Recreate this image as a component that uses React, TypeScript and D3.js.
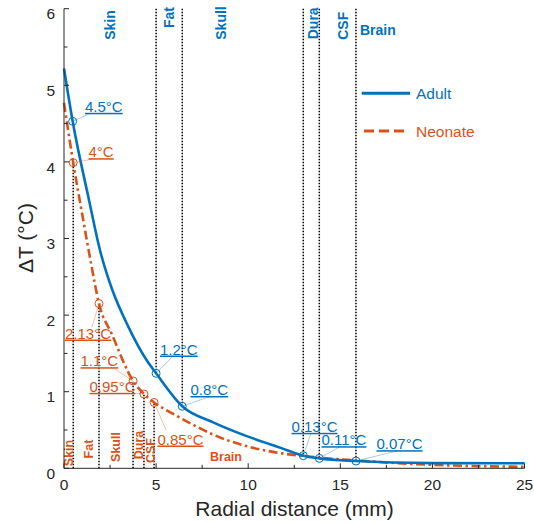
import React from "react";
import * as d3 from "d3";

// ---- data ----
const adultX = [0, 0.47, 1.36, 1.95, 2.59, 3.49, 4.49, 5.0, 6.42, 8.1, 9.92, 11.73, 12.99, 13.86, 15.85, 20, 25];
const adultY = [5.22, 4.53, 3.5, 2.85, 2.35, 1.85, 1.41, 1.24, 0.81, 0.6, 0.42, 0.27, 0.165, 0.13, 0.095, 0.068, 0.065];

const neoX = [0, 0.5, 1.0, 1.45, 1.9, 2.6, 3.75, 4.34, 4.89, 6.0, 7.0, 8.1, 9.9, 11.7, 13.4, 16, 20, 25];
const neoY = [4.77, 3.99, 3.3, 2.7, 2.15, 1.75, 1.14, 0.97, 0.86, 0.7, 0.57, 0.44, 0.29, 0.2, 0.15, 0.1, 0.045, 0.02];

const adultPtX = [0.47, 5.0, 6.42, 12.99, 13.86, 15.85];
const adultPtY = [4.53, 1.24, 0.81, 0.165, 0.13, 0.095];
const adultPtLabels = ["4.5°C", "1.2°C", "0.8°C", "0.13°C", "0.11°C", "0.07°C"];
const adultLineX = [5.0, 6.42, 12.99, 13.86, 15.85];
const adultLineY = [1.24, 0.81, 0.165, 0.13, 0.095];

const neoPtX = [0.5, 1.9, 3.75, 4.34, 4.89];
const neoPtY = [3.99, 2.15, 1.14, 0.97, 0.86];
const neoPtLabels = ["4°C", "2.13°C", "1.1°C", "0.95°C", "0.85°C"];

const adultRegions = ["Skin", "Fat", "Skull", "Dura", "CSF", "Brain"];
const neoRegions = ["Skin", "Fat", "Skull", "Dura", "CSF", "Brain"];

const xTicks = [0, 5, 10, 15, 20, 25];
const xMinor = [2.5, 7.5, 12.5, 17.5, 22.5];
const yTicks = [0, 1, 2, 3, 4, 5, 6];
const yMinor = [0.5, 1.5, 2.5, 3.5, 4.5, 5.5];

const seriesNames = ["Adult", "Neonate"];

// ---- layout (pixels) ----
const W = 534, H = 523;
const BLUE = "#0072BD";
const ORANGE = "#D95319";
const AX = "#262626";
const FONT = "'Liberation Sans', Arial, Helvetica, sans-serif";

const adultLabelPos = [
  { tx: 85, ty: 111.8, lx: 90, ly: 113.5 },
  { tx: 160, ty: 354.5, lx: 173, ly: 356 },
  { tx: 190.5, ty: 395, lx: 210, ly: 396.5 },
  { tx: 291.5, ty: 431.8, lx: 311, ly: 433.3 },
  { tx: 321.5, ty: 445.2, lx: 340, ly: 446.7 },
  { tx: 376.5, ty: 449.2, lx: 398, ly: 450.7 },
];
const neoLabelPos = [
  { tx: 88.5, ty: 157.2, lx: 95, ly: 158.7 },
  { tx: 65, ty: 338.5, lx: 92, ly: 327 },
  { tx: 80.5, ty: 366.2, lx: 115, ly: 369 },
  { tx: 89.5, ty: 391.8, lx: 136, ly: 393.3 },
  { tx: 157.5, ty: 444.5, lx: 166, ly: 430 },
];
// rotated region labels: [baselineX, centerY]; last is horizontal [x, baseline]
const adultRegionPos = [[115, 25], [174, 17.5], [226, 23], [318, 23.3], [348, 25.8], [360, 35]];
const neoRegionPos = [[73.3, 453], [93, 449], [120, 447], [142.5, 445], [155, 450.5], [210, 460.7]];

export default function App() {
  const x = d3.scaleLinear().domain([0, 25]).range([64, 524.5]);
  const y = d3.scaleLinear().domain([0, 6]).range([468.3, 8.7]);

  const line = d3
    .line<[number, number]>()
    .x((d) => x(d[0]))
    .y((d) => y(d[1]))
    .curve(d3.curveMonotoneX);

  const adultPath = line(adultX.map((v, i) => [v, adultY[i]]) as [number, number][]) || "";
  const neoPath = line(neoX.map((v, i) => [v, neoY[i]]) as [number, number][]) || "";

  const y0 = y(0);
  const x0 = x(0);
  const dotted = { stroke: "#000", strokeWidth: 1.5, strokeDasharray: "1.5,1.5" };

  return (
    <svg
      width={W}
      height={H}
      style={{ position: "fixed", left: 0, top: 0, background: "#fff" }}
      fontFamily={FONT}
    >
      {/* adult boundary lines (top down to curve) */}
      {adultLineX.map((v, i) => (
        <line key={"al" + i} x1={x(v)} x2={x(v)} y1={y(6)} y2={y(adultLineY[i])} {...dotted} />
      ))}
      {/* neonate boundary lines (bottom up to curve) */}
      {neoPtX.map((v, i) => (
        <line key={"nl" + i} x1={x(v)} x2={x(v)} y1={y0} y2={y(neoPtY[i])} {...dotted} />
      ))}

      {/* curves */}
      <path d={neoPath} fill="none" stroke={ORANGE} strokeWidth={2.6} strokeDasharray="9,3.5,2.5,3.5" />
      <path d={adultPath} fill="none" stroke={BLUE} strokeWidth={2.6} />

      {/* points */}
      {adultPtX.map((v, i) => (
        <circle key={"ap" + i} cx={x(v)} cy={y(adultPtY[i])} r={4} fill="none" stroke={BLUE} strokeWidth={1} />
      ))}
      {neoPtX.map((v, i) => (
        <circle key={"np" + i} cx={x(v)} cy={y(neoPtY[i])} r={4} fill="none" stroke={ORANGE} strokeWidth={1} />
      ))}

      {/* annotations */}
      {adultPtLabels.map((t, i) => {
        const p = adultLabelPos[i];
        return (
          <g key={"aa" + i}>
            <line x1={x(adultPtX[i])} y1={y(adultPtY[i])} x2={p.lx} y2={p.ly} stroke={BLUE} strokeOpacity={0.6} strokeWidth={0.6} />
            <text x={p.tx} y={p.ty} fontSize={15} fill={BLUE} textDecoration="underline">
              {t}
            </text>
          </g>
        );
      })}
      {neoPtLabels.map((t, i) => {
        const p = neoLabelPos[i];
        return (
          <g key={"na" + i}>
            <line x1={x(neoPtX[i])} y1={y(neoPtY[i])} x2={p.lx} y2={p.ly} stroke={ORANGE} strokeOpacity={0.6} strokeWidth={0.6} />
            <text x={p.tx} y={p.ty} fontSize={15} fill={ORANGE} textDecoration="underline">
              {t}
            </text>
          </g>
        );
      })}

      {/* region labels */}
      {adultRegions.map((t, i) => {
        const [px, py] = adultRegionPos[i];
        if (i === adultRegions.length - 1)
          return (
            <text key={"ar" + i} x={px} y={py} fontSize={14} fontWeight="bold" fill={BLUE}>
              {t}
            </text>
          );
        return (
          <text key={"ar" + i} transform={`translate(${px},${py}) rotate(-90)`} textAnchor="middle" fontSize={14} fontWeight="bold" fill={BLUE}>
            {t}
          </text>
        );
      })}
      {neoRegions.map((t, i) => {
        const [px, py] = neoRegionPos[i];
        if (i === neoRegions.length - 1)
          return (
            <text key={"nr" + i} x={px} y={py} fontSize={12.5} fontWeight="bold" fill={ORANGE}>
              {t}
            </text>
          );
        return (
          <text key={"nr" + i} transform={`translate(${px},${py}) rotate(-90)`} textAnchor="middle" fontSize={12.5} fontWeight="bold" fill={ORANGE}>
            {t}
          </text>
        );
      })}

      {/* legend */}
      <line x1={361.7} x2={410} y1={93.3} y2={93.3} stroke={BLUE} strokeWidth={3} />
      <text x={416} y={99} fontSize={15.5} fill={BLUE}>{seriesNames[0]}</text>
      <line x1={364} x2={409} y1={131} y2={131} stroke={ORANGE} strokeWidth={3} strokeDasharray="10,5" />
      <text x={416} y={136.7} fontSize={15.5} fill={ORANGE}>{seriesNames[1]}</text>

      {/* axes */}
      <line x1={x0} x2={x0} y1={y(6)} y2={y0} stroke={AX} strokeWidth={1} />
      <line x1={x0} x2={x(25)} y1={y0} y2={y0} stroke={AX} strokeWidth={1} />
      {yTicks.map((t) => (
        <g key={"yt" + t}>
          <line x1={x0} x2={x0 + 5} y1={y(t)} y2={y(t)} stroke={AX} />
          <text x={55} y={y(t) + 10.6} textAnchor="end" fontSize={15.5} fill={AX}>
            {t}
          </text>
        </g>
      ))}
      {yMinor.map((t) => (
        <line key={"ym" + t} x1={x0} x2={x0 + 3.5} y1={y(t)} y2={y(t)} stroke={AX} />
      ))}
      {xTicks.map((t) => (
        <g key={"xt" + t}>
          <line x1={x(t)} x2={x(t)} y1={y0} y2={y0 - 5} stroke={AX} />
          <text x={x(t)} y={490} textAnchor="middle" fontSize={15.5} fill={AX}>
            {t}
          </text>
        </g>
      ))}
      {xMinor.map((t) => (
        <line key={"xm" + t} x1={x(t)} x2={x(t)} y1={y0} y2={y0 - 3.5} stroke={AX} />
      ))}

      <text x={294.5} y={516} textAnchor="middle" fontSize={21} fill={AX}>
        Radial distance (mm)
      </text>
      <text transform="translate(33,238) rotate(-90)" textAnchor="middle" fontSize={21} fill={AX}>
        ΔT (°C)
      </text>
    </svg>
  );
}
